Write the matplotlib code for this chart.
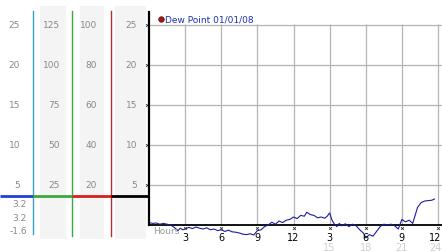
import matplotlib
matplotlib.use("Agg")
import matplotlib.pyplot as plt
from matplotlib.transforms import blended_transform_factory

# dew point trace, hours from midnight 01/01/08
hours = [0.0, 0.3, 0.6, 0.9, 1.2, 1.5, 1.8, 2.1, 2.4, 2.6, 2.8, 3.0, 3.3, 3.6, 3.9,
         4.2, 4.5, 4.8, 5.1, 5.4, 5.7, 6.0, 6.3, 6.6, 6.9, 7.2, 7.5, 7.8, 8.1, 8.4,
         8.7, 9.0, 9.3, 9.6, 9.9, 10.2, 10.5, 10.8, 11.1, 11.4, 11.7, 12.0, 12.3,
         12.6, 12.9, 13.1, 13.4, 13.7, 14.0, 14.3, 14.6, 14.8, 15.0, 15.2, 15.4,
         15.6, 15.8, 16.0, 16.3, 16.6, 16.9, 17.2, 17.5, 17.8, 18.0, 18.3, 18.6,
         18.9, 19.2, 19.5, 19.8, 20.1, 20.4, 20.7, 21.0, 21.3, 21.6, 21.9, 22.1,
         22.3, 22.6, 22.9, 23.2, 23.5, 23.7]
dew_point = [0.3, 0.2, 0.25, 0.1, 0.2, 0.1, 0.0, -0.3, -0.7, -0.4, -0.6, -0.5, -0.3,
             -0.45, -0.25, -0.4, -0.5, -0.35, -0.6, -0.5, -0.7, -0.6, -0.8, -0.65,
             -0.85, -0.9, -1.0, -1.15, -1.2, -1.1, -1.25, -0.7, -0.6, -0.2, 0.0, 0.35,
             0.1, 0.5, 0.3, 0.6, 0.7, 1.0, 0.8, 1.2, 1.1, 1.6, 1.3, 1.2, 0.9, 1.0,
             0.85, 1.1, 1.5, 0.6, 0.1, -0.2, 0.2, -0.1, 0.15, -0.2, 0.1, -0.1, -0.6,
             -1.0, -1.6, -1.2, -1.4, -0.8, -0.2, 0.1, 0.0, 0.1, -0.1, -0.5, 0.7, 0.4,
             0.6, 0.2, 1.2, 2.2, 2.8, 3.0, 3.05, 3.1, 3.25]

y_ticks = [5, 10, 15, 20, 25]
x_ticks = [3, 6, 9, 12, 15, 18, 21, 24]
x_labels = ["3", "6", "9", "12", "3", "6", "9", "12"]
x_labels_24h = {15: "15", 18: "18", 21: "21", 24: "24"}

# left side scales, one column per unit system
col_labels = [
    ["5", "10", "15", "20", "25"],
    ["25", "50", "75", "100", "125"],
    ["20", "40", "60", "80", "100"],
    ["5", "10", "15", "20", "25"],
]
current_values = ["3.2", "3.2", "-1.6"]
legend_text = "Dew Point 01/01/08"

W, H = 442, 253
fig = plt.figure(figsize=(W / 100, H / 100), dpi=100)
fig.patch.set_facecolor("white")

# pixel-space backdrop for the left scale columns
bg = fig.add_axes([0, 0, 1, 1])
bg.set_xlim(0, W)
bg.set_ylim(H, 0)
bg.axis("off")

for x0, x1 in [(40, 66), (80, 104), (115, 146)]:
    bg.axvspan(x0, x1, ymin=(H - 240) / H, ymax=(H - 7) / H, color="#f4f4f4", lw=0)

for x, c, y1 in [(33, "#3a9fc4", 235), (72, "#3aa83a", 237), (111, "#b03030", 237)]:
    bg.plot([x, x], [12, y1], color=c, lw=1.0)

for (x0, x1), c in zip([(0, 33), (33, 72), (72, 111), (111, 149)],
                       ["#1f3fd8", "#3aa83a", "#d42020", "black"]):
    bg.plot([x0, x1], [197, 197], color=c, lw=2.0, solid_capstyle="butt")

for v, y in zip(current_values, [205, 219, 232]):
    bg.text(27, y, v, ha="right", va="center", fontsize=6.5, color="#888888")

# main chart
ax = fig.add_axes([149 / W, 0, (W - 149) / W, (H - 13) / H])
px_h = 289 / 24.0
x_right = (W - 149) / px_h
ax.set_xlim(0, x_right)
ax.set_ylim(-(H - 226) / 8.0, (226 - 13) / 8.0)
ax.patch.set_alpha(0)
for s in ["top", "right", "bottom"]:
    ax.spines[s].set_visible(False)
ax.spines["left"].set_bounds(0, (226 - 13) / 8.0)
ax.spines["left"].set_linewidth(1.6)
ax.set_xticks([])
ax.set_yticks([])

ax.hlines(y_ticks, 0, x_right, color="#b4b4b4", lw=0.9)
ax.vlines(x_ticks, 0, 25.15, color="#b4b4b4", lw=0.9)
ax.axhline(0, color="black", lw=1.3)

ax.text(0.35, -0.75, "Hours", fontsize=6.5, color="#9a9a9a", va="center", ha="left")
ax.plot(hours, dew_point, color="#1c1c9c", lw=0.8)

# axis marks and tick labels
ax.plot([-0.17] * len(y_ticks), y_ticks, "x", ms=2, mew=0.6, color="#333333", clip_on=False)
ax.plot(x_ticks, [-0.4] * len(x_ticks), "x", ms=2, mew=0.6, color="#333333", clip_on=False)
for t, lab in zip(x_ticks, x_labels):
    if t == x_ticks[-1]:
        ax.text(x_right - 0.02, -1.5, lab, ha="right", va="center", fontsize=7, color="black")
    else:
        ax.text(t, -1.5, lab, ha="center", va="center", fontsize=7, color="black")
for t, lab in x_labels_24h.items():
    if t == x_ticks[-1]:
        ax.text(x_right - 0.02, -2.75, lab, ha="right", va="center", fontsize=7, color="#cfcfcf")
    else:
        ax.text(t, -2.75, lab, ha="center", va="center", fontsize=7, color="#cfcfcf")

# left column labels aligned with the chart's y scale
tr = blended_transform_factory(bg.transData, ax.transData)
for x_r, labels in zip([20, 60, 97, 137], col_labels):
    for v, lab in zip(y_ticks, labels):
        fig.text(x_r, v, lab, transform=tr, ha="right", va="center",
                 fontsize=6.5, color="#888888")

# legend
ax.plot([1.0], [25.7], "o", ms=4, color="#a01818", mec="#601010", mew=0.5, clip_on=False)
ax.text(1.3, 25.7, legend_text, fontsize=6.5, color="#2030b0", va="center", ha="left")

fig.savefig("out.png", dpi=100)
